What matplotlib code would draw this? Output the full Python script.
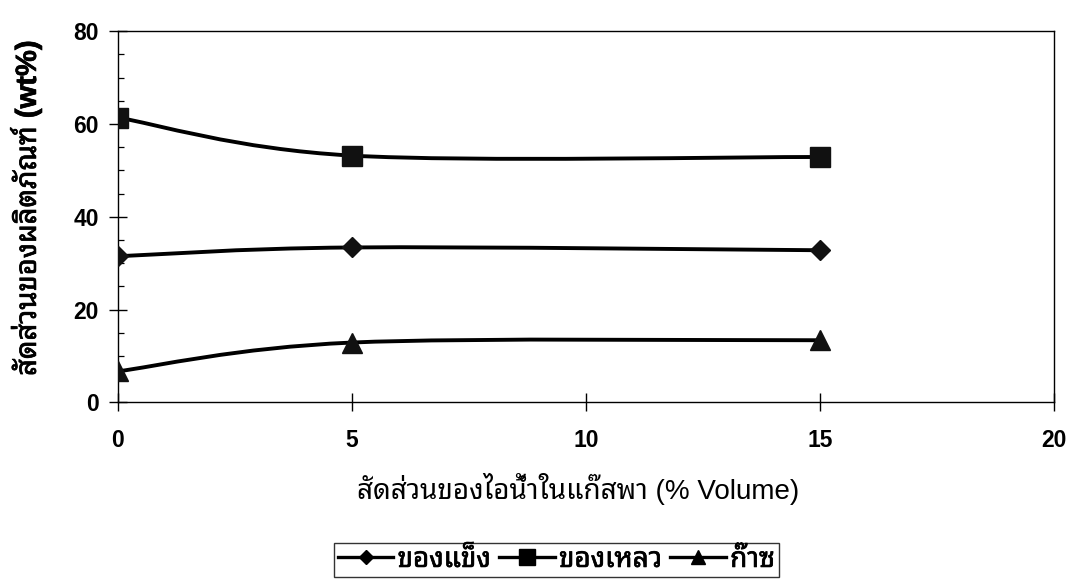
import numpy as np
import matplotlib
matplotlib.use("Agg")
import matplotlib.pyplot as plt
import matplotlib.patheffects as pe
from matplotlib import font_manager
from matplotlib.ft2font import FT2Font
from matplotlib.path import Path
from matplotlib.patches import PathPatch
from matplotlib.lines import Line2D

# steam fraction in carrier gas (% volume) and product yields (wt%)
steam = [0, 5, 15]
solid = [31.5, 33.4, 32.8]
liquid = [61.4, 53.2, 52.9]
gas = [6.7, 12.9, 13.4]

series_names = ["ของแข็ง", "ของเหลว", "ก๊าซ"]
xlabel = "สัดส่วนของไอน้ำในแก๊สพา (% Volume)"
ylabel = "สัดส่วนของผลิตภัณฑ์ (wt%)"
xticks = [0, 5, 10, 15, 20]
yticks = [0, 20, 40, 60, 80]

PREFERRED_THAI = ["Noto Sans Thai Looped", "Loma", "Garuda", "Waree",
                  "Tlwg Typo", "Umpush", "Tahoma", "Noto Sans Thai"]


def find_thai_family():
    # looped Thai faces first, then anything that carries Thai glyphs
    names = {f.name for f in font_manager.fontManager.ttflist}
    for name in PREFERRED_THAI:
        if name in names:
            return name
    for fe in font_manager.fontManager.ttflist:
        try:
            if 0x0E2A in FT2Font(fe.fname).get_charmap():
                return fe.name
        except Exception:
            continue
    return None


thai = find_thai_family()
fams = ["Liberation Sans"] + ([thai] if thai else []) + ["DejaVu Sans"]
plt.rcParams["font.family"] = fams

# the Thai face has no bold cut, so thicken it with a thin outline
heavy = [pe.withStroke(linewidth=0.5, foreground="black")]


def smooth_path(xs, ys):
    # cubic bezier through the points, like a spreadsheet "smoothed line"
    pts = np.column_stack([xs, ys]).astype(float)
    n = len(pts)
    verts = [pts[0]]
    codes = [Path.MOVETO]
    for i in range(n - 1):
        p0 = pts[max(i - 1, 0)]
        p1 = pts[i]
        p2 = pts[i + 1]
        p3 = pts[min(i + 2, n - 1)]
        verts += [p1 + (p2 - p0) / 6, p2 - (p3 - p1) / 6, p2]
        codes += [Path.CURVE4] * 3
    return Path(verts, codes)


fig = plt.figure(figsize=(10.7, 5.79), dpi=100)
ax = fig.add_axes([0.110, 0.305, 0.875, 0.641])

markers = [("D", 10), ("s", 14.5), ("^", 14)]
for ys, (m, ms) in zip([solid, liquid, gas], markers):
    ax.add_patch(PathPatch(smooth_path(steam, ys), fill=False,
                           lw=2.8, ec="black", capstyle="round", zorder=2))
    ax.plot(steam, ys, ls="none", marker=m, ms=ms, color="#111111", zorder=3)

ax.set_xlim(0, 20)
ax.set_ylim(0, 80)
ax.set_xticks(xticks)
ax.set_yticks(yticks)
ax.set_yticks(np.arange(0, 81, 5), minor=True)
ax.tick_params(axis="both", which="major", direction="inout", length=13,
               width=1.0, labelsize=16.5)
ax.tick_params(axis="y", which="major", pad=7)
ax.tick_params(axis="x", which="major", pad=13)
ax.tick_params(axis="y", which="minor", direction="in", length=4, width=0.9)
for lbl in ax.get_xticklabels() + ax.get_yticklabels():
    lbl.set_fontweight("bold")
for s in ax.spines.values():
    s.set_linewidth(1.0)

fig.text(0.024, 0.64, ylabel, rotation=90, ha="center", va="center",
         fontsize=21, fontweight="bold", path_effects=heavy)
fig.text(0.54, 0.155, xlabel, ha="center", va="center", fontsize=20)

handles = [Line2D([], [], color="black", lw=2.4, marker=m, ms=ms * 0.75)
           for m, ms in markers]
leg = fig.legend(handles, series_names, loc="center", bbox_to_anchor=(0.52, 0.033),
                 ncol=3, frameon=True, fancybox=False, edgecolor="black",
                 fontsize=20, handlelength=2.0, handletextpad=0.15,
                 columnspacing=0.3, borderpad=0.15, borderaxespad=0)
leg.get_frame().set_linewidth(1.0)
for t in leg.get_texts():
    t.set_fontweight("bold")
    t.set_path_effects(heavy)

fig.savefig("out.png", dpi=100)
